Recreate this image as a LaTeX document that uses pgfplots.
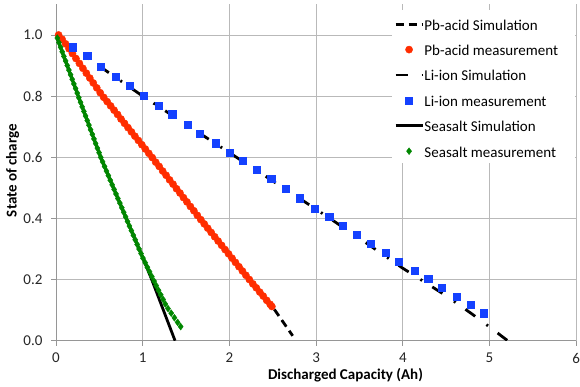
\documentclass[border=0pt]{standalone}
\usepackage{pgfplots}
\pgfplotsset{compat=1.18}
\usepackage{fontspec}
\setmainfont{Carlito}
\definecolor{pbred}{RGB}{255,45,0}
\definecolor{liblue}{RGB}{20,65,255}
\definecolor{ssgreen}{RGB}{0,135,0}
\definecolor{gridc}{RGB}{185,185,185}
\definecolor{axisc}{RGB}{150,150,150}
\begin{document}
\begin{tikzpicture}
\begin{axis}[
  at={(56pt,46.3pt)}, anchor=south west,
  scale only axis, width=520.2pt, height=336.3pt,
  xmin=0, xmax=6, ymin=0, ymax=1.1,
  axis x line=bottom, axis y line=left,
  axis line style={-, draw=axisc, line width=0.8pt},
  grid=major, major grid style={draw=gridc, line width=0.8pt},
  tick align=outside, major tick length=5pt,
  tick style={draw=axisc, line width=0.8pt},
  xtick={0,1,2,3,4,5,6}, ytick={0,0.2,0.4,0.6,0.8,1.0},
  /pgf/number format/assume math mode=true,
  ticklabel style={font=\fontsize{15}{17}\selectfont, text=black!85},
  yticklabel style={xshift=-5pt, /pgf/number format/.cd, fixed, fixed zerofill, precision=1},
  xticklabel style={yshift=-4pt},
  xlabel={\textbf{Discharged Capacity (Ah)}},
  ylabel={\textbf{State of charge}},
  label style={font=\fontsize{15}{17}\selectfont},
  xlabel style={at={(axis description cs:0.5565,0)}, anchor=base, yshift=-39.3pt},
  ylabel style={at={(axis description cs:-0.0836,0.506)}, anchor=center},
  legend cell align=left,
  legend image code/.code={\draw[mark repeat=2,mark phase=2,#1,dash phase=0pt] plot coordinates {(0pt,0pt) (13.5pt,0pt) (27pt,0pt)};},
  legend style={at={(axis description cs:0.6497,0.9596)}, anchor=north west,
    draw=none, fill=none, inner xsep=0pt, inner ysep=0pt,
    row sep=13.4pt, column sep=0.5pt,
    font=\fontsize{15}{17}\selectfont,
    nodes={inner sep=0pt, text height=12pt, text depth=0pt}},
]
% Pb-acid simulation
\addplot[black, line width=2.8pt, line join=round, dash pattern=on 8pt off 5pt] coordinates {
(0,1.0) (0.1,0.976) (0.53,0.806) (1.12,0.599) (1.63,0.414) (2.23,0.203) (2.49,0.114) (2.73,0.016)};
% Pb-acid measurement
\addplot[only marks, mark=*, mark size=3.6pt, color=pbred] coordinates {
(0.03,1.000) (0.07,0.986) (0.11,0.971) (0.15,0.955) (0.19,0.939) (0.23,0.923) (0.27,0.907) (0.31,0.891)
(0.35,0.875) (0.39,0.859) (0.43,0.843) (0.47,0.827) (0.51,0.811) (0.55,0.796) (0.59,0.782) (0.63,0.768)
(0.67,0.754) (0.71,0.740) (0.75,0.725) (0.79,0.711) (0.83,0.697) (0.87,0.683) (0.91,0.669) (0.95,0.655)
(0.99,0.641) (1.03,0.627) (1.07,0.613) (1.11,0.599) (1.15,0.584) (1.19,0.570) (1.23,0.555) (1.27,0.541)
(1.31,0.526) (1.35,0.512) (1.39,0.497) (1.43,0.483) (1.47,0.468) (1.51,0.454) (1.55,0.439) (1.59,0.425)
(1.63,0.410) (1.67,0.396) (1.71,0.382) (1.75,0.368) (1.79,0.354) (1.83,0.340) (1.87,0.326) (1.91,0.312)
(1.95,0.298) (1.99,0.284) (2.03,0.270) (2.07,0.256) (2.11,0.242) (2.15,0.228) (2.19,0.214) (2.23,0.200)
(2.27,0.186) (2.31,0.173) (2.35,0.159) (2.39,0.146) (2.43,0.132) (2.47,0.119) (2.49,0.112)};
% Li-ion simulation
\addplot[black, line width=2.8pt, line join=round, dash pattern=on 12pt off 14pt on 2pt off 12pt, dash phase=27pt] coordinates {
(0,1.0) (0.1,0.975) (0.2,0.957) (1.0,0.800) (2.0,0.615) (3.0,0.430) (3.5,0.335) (4.0,0.237) (4.5,0.147) (4.8,0.087) (5.0,0.045) (5.21,0.0)};
% Li-ion measurement
\addplot[only marks, mark=square*, mark size=3.6pt, color=liblue] coordinates {
(0.193,0.960) (0.361,0.931) (0.519,0.896) (0.692,0.864) (0.854,0.833) (1.015,0.801) (1.180,0.769) (1.341,0.741)
(1.519,0.706) (1.661,0.676) (1.842,0.646) (1.999,0.615) (2.153,0.588) (2.315,0.559) (2.481,0.529) (2.647,0.497)
(2.814,0.466) (2.987,0.433) (3.152,0.405) (3.307,0.376) (3.468,0.346) (3.630,0.316) (3.803,0.289) (3.956,0.258)
(4.133,0.229) (4.294,0.202) (4.449,0.173) (4.622,0.144) (4.787,0.117) (4.929,0.090)};
% Seasalt simulation
\addplot[black, line width=2.8pt, line join=round] coordinates {
(0,1.0) (0.257,0.8) (0.516,0.6) (0.81,0.4) (1.0,0.272) (1.104,0.2) (1.373,0.0)};
% Seasalt measurement
\addplot[only marks, mark=diamond*, mark size=3.4pt, color=ssgreen] coordinates {
(0.015,0.990) (0.034,0.975) (0.053,0.960) (0.072,0.945) (0.091,0.930) (0.111,0.915) (0.130,0.900) (0.149,0.885)
(0.168,0.870) (0.187,0.855) (0.206,0.840) (0.226,0.825) (0.245,0.810) (0.263,0.795) (0.283,0.780) (0.302,0.765)
(0.322,0.750) (0.341,0.735) (0.361,0.720) (0.380,0.705) (0.399,0.690) (0.419,0.675) (0.438,0.660) (0.457,0.645)
(0.477,0.630) (0.497,0.615) (0.516,0.600) (0.538,0.585) (0.560,0.570) (0.582,0.555) (0.604,0.540) (0.626,0.525)
(0.648,0.510) (0.670,0.495) (0.692,0.480) (0.714,0.465) (0.737,0.450) (0.759,0.435) (0.781,0.420) (0.803,0.405)
(0.825,0.390) (0.847,0.375) (0.869,0.360) (0.892,0.345) (0.914,0.330) (0.936,0.315) (0.958,0.300) (0.981,0.285)
(1.003,0.270) (1.029,0.255) (1.054,0.240) (1.080,0.225) (1.105,0.210) (1.131,0.195) (1.156,0.180) (1.182,0.165)
(1.208,0.150) (1.235,0.135) (1.261,0.120) (1.292,0.105) (1.329,0.090) (1.366,0.075) (1.403,0.060) (1.438,0.046)};
\fill[white] (axis description cs:0.6459,0.5284) rectangle (axis description cs:0.9977,0.9833);
\legend{Pb-acid Simulation, Pb-acid measurement, Li-ion Simulation, Li-ion measurement, Seasalt Simulation, Seasalt measurement}
\end{axis}
\pgfresetboundingbox
\path[use as bounding box] (0,0) rectangle (580pt,387pt);
\end{tikzpicture}
\end{document}
